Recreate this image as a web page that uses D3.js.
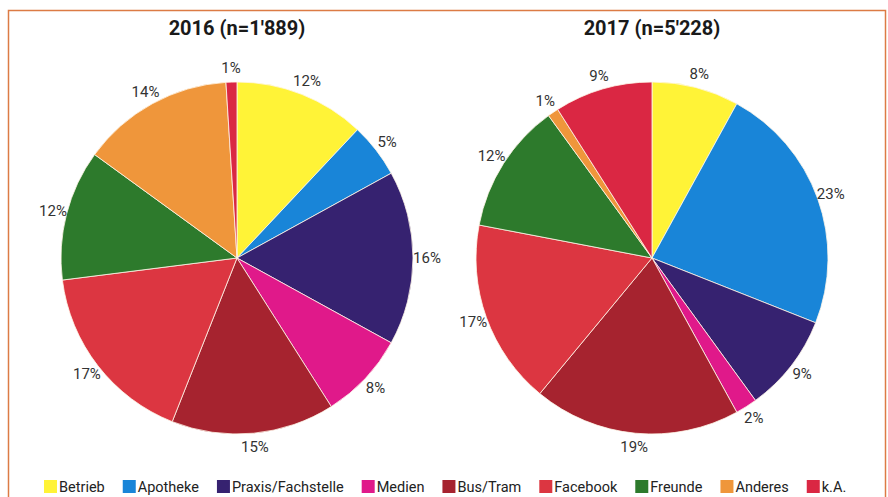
<!DOCTYPE html>
<html>
<head>
<meta charset="utf-8">
<script src="https://cdn.jsdelivr.net/npm/d3@7"></script>
<style>
  body { margin: 0; background: #fff; }
  svg { display: block; font-family: Roboto, "Liberation Sans", sans-serif; }
  .pct { font-size: 15px; fill: #333; }
  .title { font-size: 20px; font-weight: bold; fill: #1a1a1a; }
  .legend text { font-size: 14.5px; fill: #222; }
</style>
</head>
<body>
<div id="chart"></div>
<script>
// Categories, shared by both pies and the legend.
const categories = ["Betrieb", "Apotheke", "Praxis/Fachstelle", "Medien", "Bus/Tram", "Facebook", "Freunde", "Anderes", "k.A."];
const colors = ["#fff337", "#1985d8", "#362270", "#e0198a", "#a6232f", "#dc3641", "#2d7a2c", "#ef963b", "#da2743"];

// Percent shares per year.
const years = ["2016 (n=1'889)", "2017 (n=5'228)"];
const values2016 = [12, 5, 16, 8, 15, 17, 12, 14, 1];
const values2017 = [8, 23, 9, 2, 19, 17, 12, 1, 9];

const width = 888;
const height = 497;
const radius = 176;
const labelRadius = 190;

const svg = d3.select("#chart")
    .append("svg")
    .attr("width", width)
    .attr("height", height);

// Orange frame around the chart.
svg.append("rect")
    .attr("x", 8.5)
    .attr("y", 10.5)
    .attr("width", 877)
    .attr("height", 520)
    .attr("fill", "none")
    .attr("stroke", "#dc7b45")
    .attr("stroke-width", 1.5);

const pie = d3.pie().sort(null).value(d => d);
const arc = d3.arc().innerRadius(0).outerRadius(radius);
const labelArc = d3.arc().innerRadius(labelRadius).outerRadius(labelRadius);

const centers = [[237, 258], [652, 258]];
const allValues = [values2016, values2017];

allValues.forEach(function(values, i) {
    const g = svg.append("g")
        .attr("transform", `translate(${centers[i][0]}, ${centers[i][1]})`);

    // Draw the slices.
    g.selectAll("path")
        .data(pie(values))
        .join("path")
        .attr("d", arc)
        .attr("fill", (d, j) => colors[j])
        .attr("stroke", "#fff6e8")
        .attr("stroke-width", 0.8);

    // Percent labels outside the pie.
    g.selectAll("text.pct")
        .data(pie(values))
        .join("text")
        .attr("class", "pct")
        .attr("transform", d => `translate(${labelArc.centroid(d)})`)
        .attr("text-anchor", "middle")
        .attr("dominant-baseline", "central")
        .text(d => d.data + "%");

    // Title above each pie.
    svg.append("text")
        .attr("class", "title")
        .attr("x", centers[i][0])
        .attr("y", 35)
        .attr("text-anchor", "middle")
        .text(years[i]);
});

// Legend along the bottom.
const legend = svg.append("g").attr("class", "legend");
let lx = 44;
categories.forEach(function(c, i) {
    const item = legend.append("g").attr("transform", `translate(${lx}, 480)`);
    item.append("rect")
        .attr("width", 13)
        .attr("height", 13)
        .attr("fill", colors[i]);
    const t = item.append("text")
        .attr("x", 15)
        .attr("y", 12)
        .text(c);
    lx += 15 + t.node().getComputedTextLength() + 18;
});
</script>
</body>
</html>
